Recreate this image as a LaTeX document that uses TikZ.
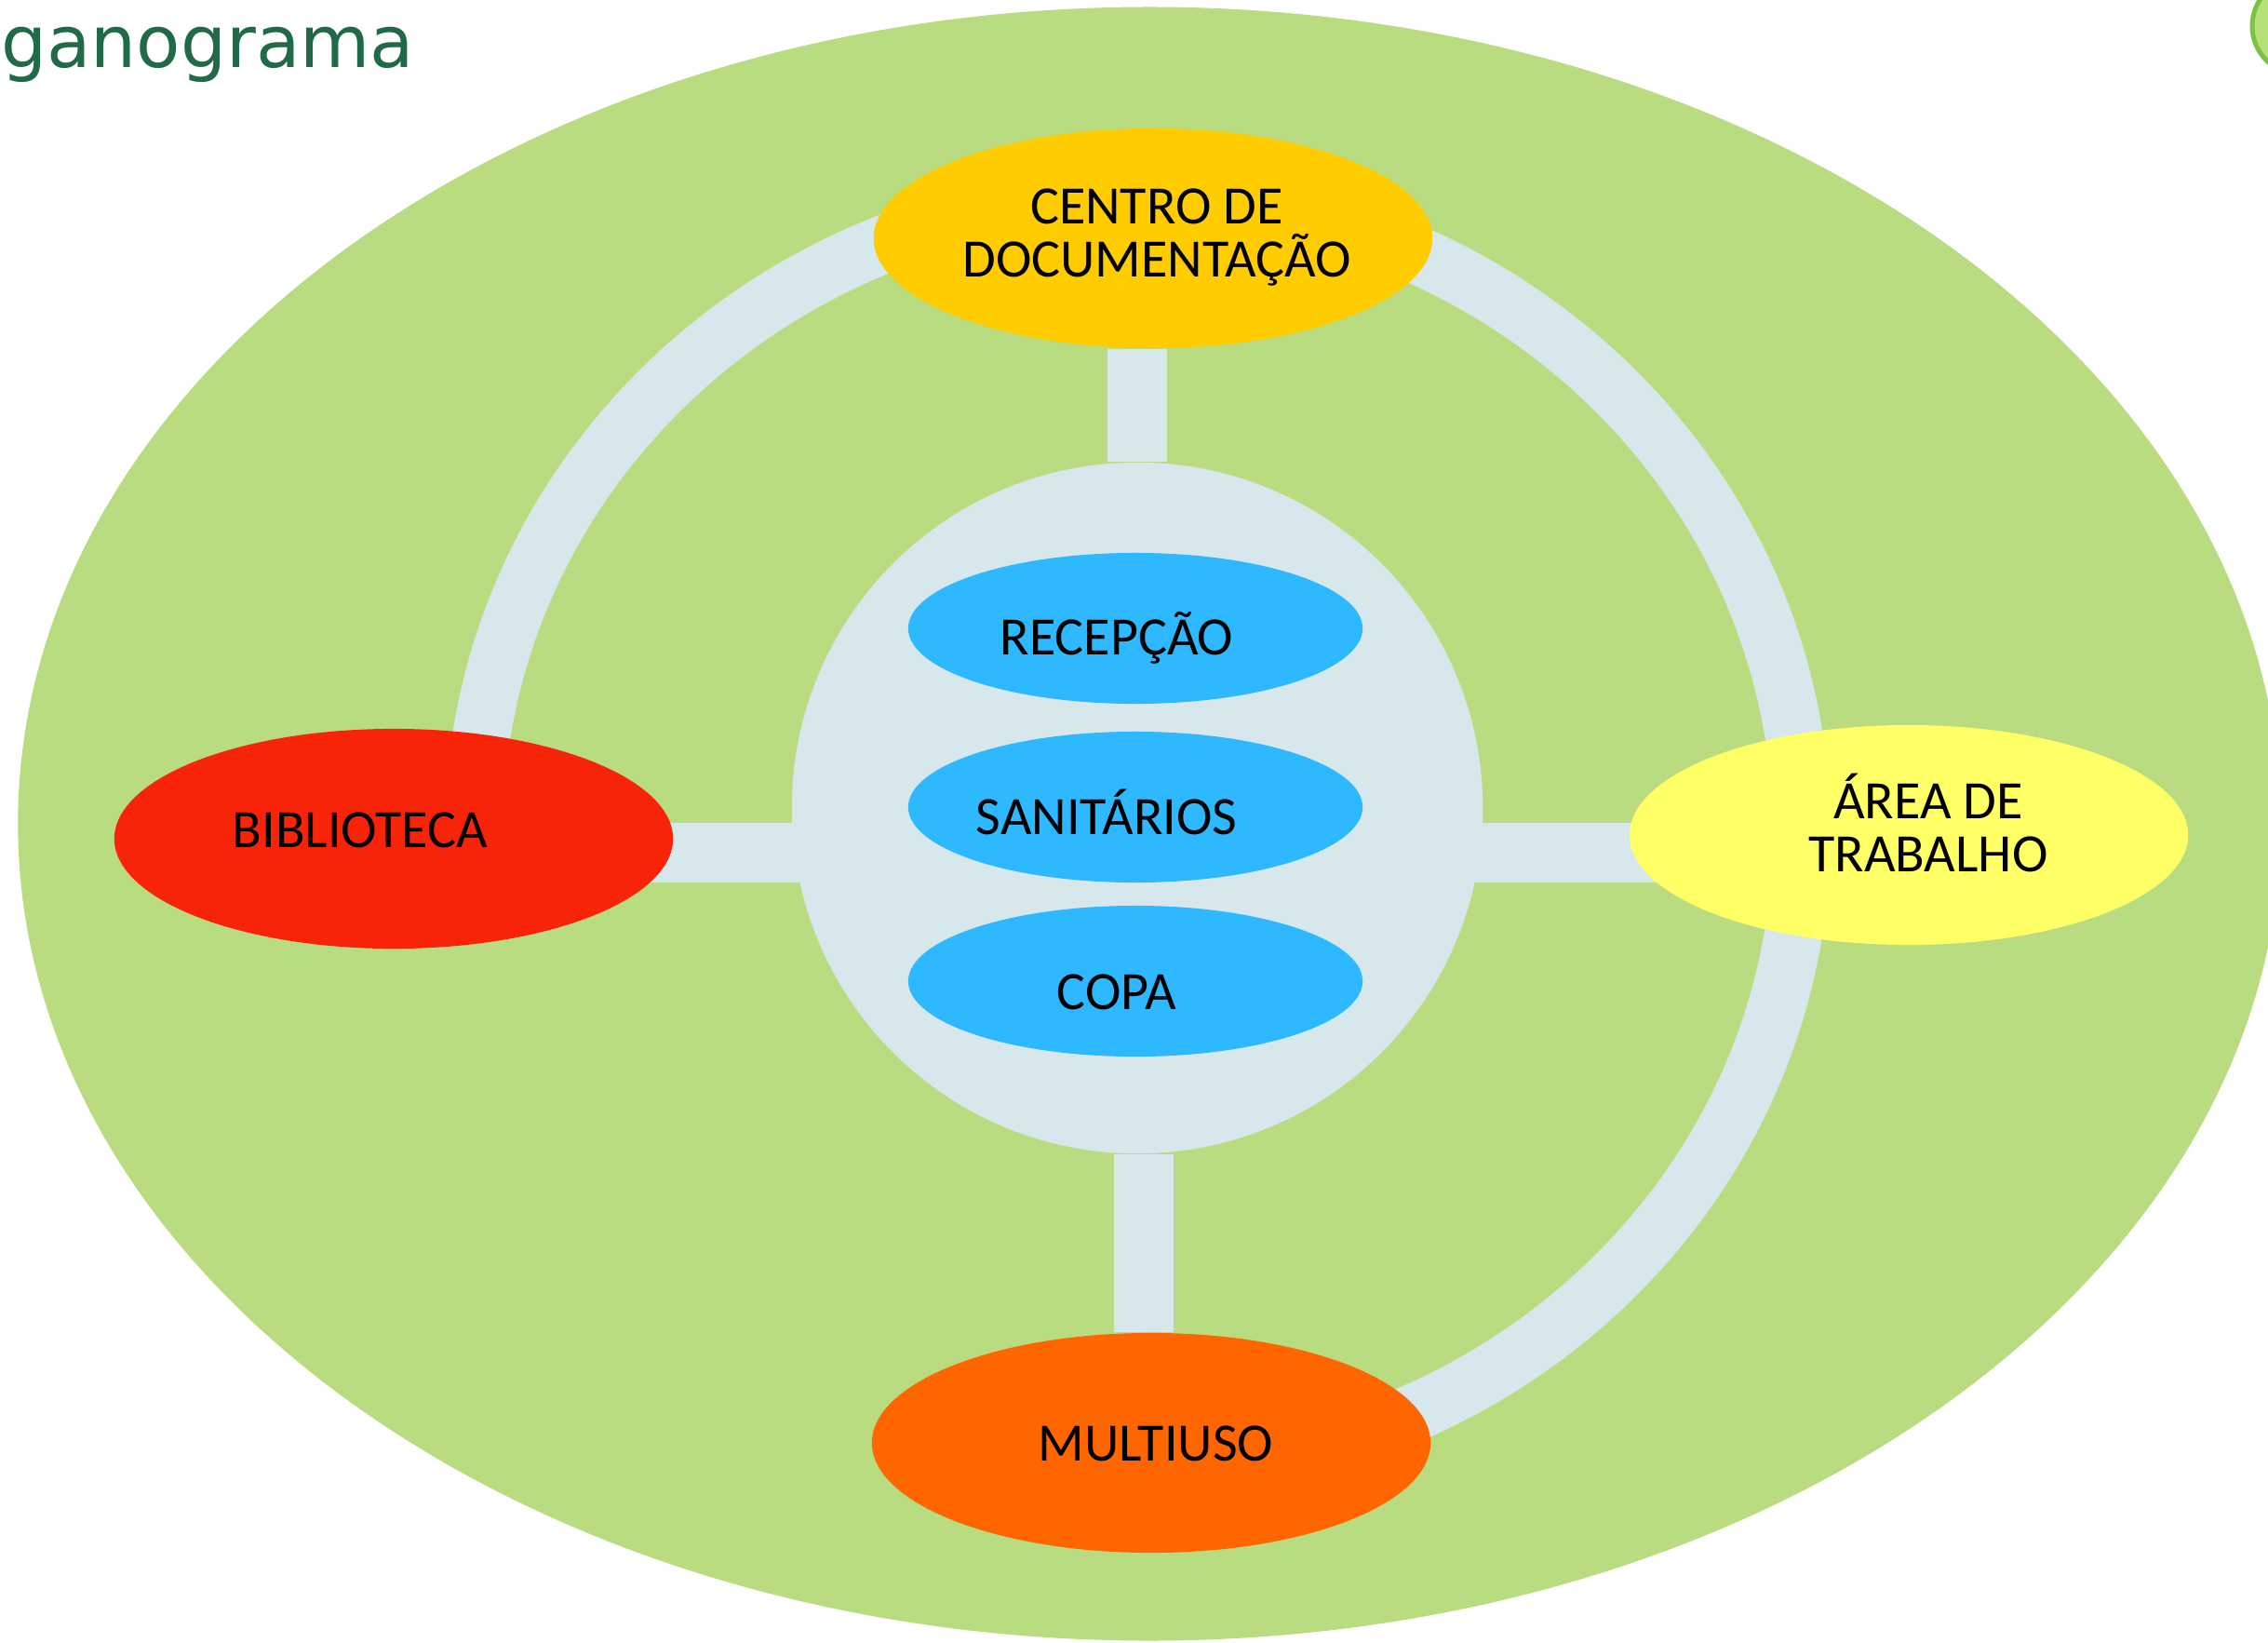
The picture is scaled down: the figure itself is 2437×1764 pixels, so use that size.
\documentclass[tikz,border=0pt]{standalone}
\usepackage{fontspec}
\setmainfont{Carlito}
\newfontfamily\titlefont{DejaVu Sans}
\usetikzlibrary{shapes.geometric}
\definecolor{fundo}{RGB}{185,220,128}
\definecolor{anel}{RGB}{214,232,236}
\definecolor{ouro}{RGB}{255,204,0}
\definecolor{vermelho}{RGB}{248,36,10}
\definecolor{amarelo}{RGB}{255,255,102}
\definecolor{laranja}{RGB}{255,102,0}
\definecolor{azul}{RGB}{46,184,255}
\definecolor{titulo}{RGB}{33,106,72}
\definecolor{logo}{RGB}{124,194,66}
\definecolor{logoclaro}{RGB}{184,224,122}
\pgfdeclarelayer{camadafundo}
\pgfdeclarelayer{camadavias}
\pgfsetlayers{camadafundo,camadavias,main}

\begin{document}
\begin{tikzpicture}[x=0.01cm, y=-0.01cm,
		sala/.style={ellipse, minimum width=6cm, minimum height=2.36cm, inner sep=0pt},
		servico/.style={ellipse, fill=azul, minimum width=4.88cm, minimum height=1.62cm, inner sep=0pt},
		rotulo/.style={font=\fontsize{16.5}{16.2}\selectfont, align=center, inner sep=0pt},
		via/.style={draw=anel, line width=0.64cm}]
	\useasboundingbox (0,0) rectangle (2437,1764);
	
	% nucleo e salas
	\node[circle, fill=anel, minimum size=7.42cm, inner sep=0pt] (hub) at (1222,868) {};
	\node[sala, fill=ouro] (centro) at (1239,256) {};
	\node[sala, fill=vermelho] (bib) at (423,901) {};
	\node[sala, fill=amarelo] (area) at (2051,897) {};
	\node[sala, fill=laranja] (multi) at (1237,1550) {};
	\node[servico] (recep) at (1220,675) {};
	\node[servico] (sanit) at (1220,867) {};
	\node[servico] (copa) at (1220,1054) {};
	
	% textos
	\node[rotulo] (tcentro) at (1243,255) {CENTRO DE\\DOCUMENTAÇÃO};
	\node[rotulo] (tbib) at (387,892) {BIBLIOTECA};
	\node[rotulo] (tarea) at (2072,884) {ÁREA DE\\TRABALHO};
	\node[rotulo] (tmulti) at (1242,1551) {MULTIUSO};
	\node[rotulo] (trecep) at (1200,685) {RECEPÇÃO};
	\node[rotulo] (tsanit) at (1189,872) {SANITÁRIOS};
	\node[rotulo] (tcopa) at (1200,1066) {COPA};
	\node[anchor=base east, inner sep=0pt, text=titulo,
		font=\titlefont\fontsize{22}{22}\selectfont] (titulo) at (446,73) {ganograma};
	
	% vias
	\begin{pgfonlayer}{camadavias}
		\draw[anel, line width=0.62cm] (509,895) arc [start angle=180, end angle=-90, x radius=7.13cm, y radius=6.84cm];
		\draw[via] (hub.north) -- (hub.north |- centro.south);
		\draw[via] ([xshift=0.07cm]hub.south) -- ([xshift=0.07cm]hub.south |- multi.north);
		\draw[via] ([yshift=-0.15cm]bib.center) -- ([yshift=-0.48cm]hub.center);
		\draw[via] ([yshift=-0.48cm]hub.center) -- ([yshift=-0.19cm]area.center);
	\end{pgfonlayer}
	
	\begin{pgfonlayer}{camadafundo}
		\clip (0,0) rectangle (2437,1764);
		\fill[fundo] (1235,885) ellipse [x radius=12.15cm, y radius=8.77cm];
		\filldraw[fill=logoclaro, draw=logo, line width=0.05cm] (2472,28) circle [radius=0.52cm];
	\end{pgfonlayer}
\end{tikzpicture}
\end{document}
